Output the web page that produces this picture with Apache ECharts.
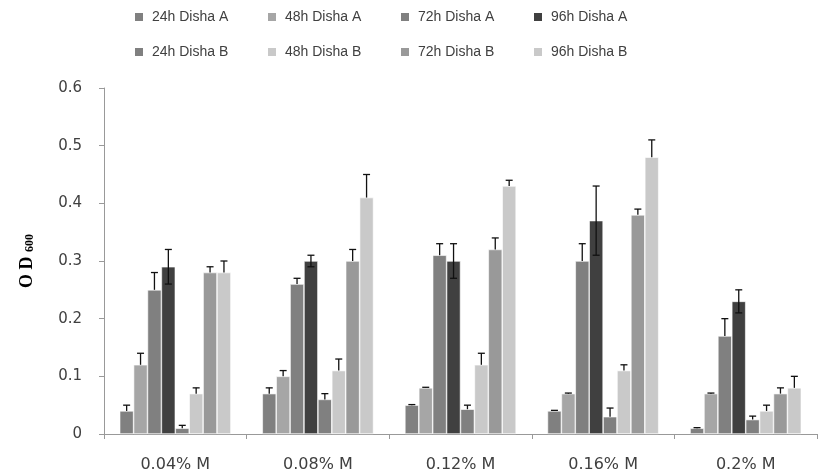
<!DOCTYPE html>
<html><head><meta charset="utf-8">
<script src="https://cdn.jsdelivr.net/npm/echarts@6/dist/echarts.min.js"></script>
<style>html,body{margin:0;padding:0;background:#fff}#c{width:823px;height:476px}</style>
</head><body><div id="c"></div>
<script>
const categories = ['0.04% M','0.08% M','0.12% M','0.16% M','0.2% M'];
const seriesNames = ['24h Disha A','48h Disha A','72h Disha A','96h Disha A','24h Disha B','48h Disha B','72h Disha B','96h Disha B'];
const v24A = [0.04, 0.07, 0.05, 0.04, 0.01];
const v48A = [0.12, 0.10, 0.08, 0.07, 0.07];
const v72A = [0.25, 0.26, 0.31, 0.30, 0.17];
const v96A = [0.29, 0.30, 0.30, 0.37, 0.23];
const v24B = [0.01, 0.06, 0.043, 0.03, 0.025];
const v48B = [0.07, 0.11, 0.12, 0.11, 0.04];
const v72B = [0.28, 0.30, 0.32, 0.38, 0.07];
const v96B = [0.28, 0.41, 0.43, 0.48, 0.08];
const e24A = [0.01, 0.01, 0.001, 0.001, 0.001];
const e48A = [0.02, 0.01, 0.001, 0.001, 0.001];
const e72A = [0.03, 0.01, 0.02, 0.03, 0.03];
const e96A = [0.03, 0.01, 0.03, 0.06, 0.02];
const e24B = [0.005, 0.01, 0.007, 0.015, 0.006];
const e48B = [0.01, 0.02, 0.02, 0.01, 0.01];
const e72B = [0.01, 0.02, 0.02, 0.01, 0.01];
const e96B = [0.02, 0.04, 0.01, 0.03, 0.02];
const yTicks = [0, 0.1, 0.2, 0.3, 0.4, 0.5, 0.6];

const values = [v24A, v48A, v72A, v96A, v24B, v48B, v72B, v96B];
const errors = [e24A, e48A, e72A, e96A, e24B, e48B, e72B, e96B];
const colors = ['#808080','#a6a6a6','#808080','#404040','#808080','#c9c9c9','#999999','#c9c9c9'];
const bothSides = [false,false,false,true,false,false,false,false];
const catGap = 0.22;
const n = 8;

const series = [];
values.forEach((vals, i) => {
  series.push({
    name: seriesNames[i], type: 'bar', data: vals,
    barGap: '0%', barCategoryGap: (catGap*100)+'%',
    itemStyle: {color: colors[i], borderColor: '#ffffff', borderWidth: 0.6},
    emphasis: {disabled: true}
  });
});
values.forEach((vals, i) => {
  series.push({
    type: 'custom', name: seriesNames[i] + ' err', z: 5,
    data: vals.map((v, k) => [k, v, errors[i][k]]),
    renderItem: function (params, api) {
      const k = api.value(0), v = api.value(1), e = api.value(2);
      const bw = api.size([1, 0])[0];
      const barW = bw * (1 - catGap) / n;
      const c = api.coord([k, v]);
      const x = c[0] - bw * (1 - catGap) / 2 + (i + 0.5) * barW;
      const top = api.coord([k, v + e])[1];
      const bot = bothSides[i] ? api.coord([k, v - e])[1] : c[1];
      const cap = 3.5;
      const st = {stroke: '#111', lineWidth: 1.3};
      const ch = [
        {type: 'line', shape: {x1: x, y1: top, x2: x, y2: bot}, style: st},
        {type: 'line', shape: {x1: x - cap, y1: top, x2: x + cap, y2: top}, style: st}
      ];
      if (bothSides[i]) ch.push({type: 'line', shape: {x1: x - cap, y1: bot, x2: x + cap, y2: bot}, style: st});
      return {type: 'group', children: ch};
    },
    silent: true
  });
});

const legends = seriesNames.map((name, i) => ({
  data: [name], left: 133 + (i % 4) * 133, top: i < 4 ? 10 : 45, padding: 0,
  itemWidth: 10, itemHeight: 10, itemGap: 0, icon: 'rect',
  textStyle: {fontFamily: 'Liberation Sans, Arial', fontSize: 14, color: '#404040', padding: [0,0,0,3]},
  selectedMode: false
}));

const chart = echarts.init(document.getElementById('c'), null, {renderer: 'canvas'});
chart.setOption({
  animation: false,
  backgroundColor: '#fff',
  legend: legends,
  grid: {left: 104, right: 6, top: 88, bottom: 42},
  xAxis: {
    type: 'category', data: categories,
    axisLine: {lineStyle: {color: '#999', width: 1}},
    axisTick: {show: true, alignWithLabel: false, length: 5, lineStyle: {color: '#999'}},
    axisLabel: {fontFamily: 'DejaVu Sans', fontSize: 16, color: '#404040', margin: 23}
  },
  yAxis: {
    type: 'value', min: 0, max: 0.6, interval: 0.1,
    axisLine: {show: true, lineStyle: {color: '#999', width: 1}},
    axisTick: {show: true, length: 5, lineStyle: {color: '#999'}},
    splitLine: {show: false},
    axisLabel: {fontFamily: 'DejaVu Sans', fontSize: 15, color: '#404040', margin: 22,
      formatter: v => { const t = yTicks.find(x => Math.abs(x - v) < 1e-9); return t === 0 ? '0' : String(t); }},
    name: '{a|O D }{b|600}', nameLocation: 'middle', nameRotate: 90, nameGap: 68,
    nameTextStyle: {rich: {
      a: {fontFamily: 'Liberation Serif, Times New Roman', fontWeight: 'bold', fontSize: 18, color: '#000'},
      b: {fontFamily: 'Liberation Serif, Times New Roman', fontWeight: 'bold', fontSize: 12, color: '#000', padding: [5,0,0,0]}
    }}
  },
  series: series
});
</script></body></html>
